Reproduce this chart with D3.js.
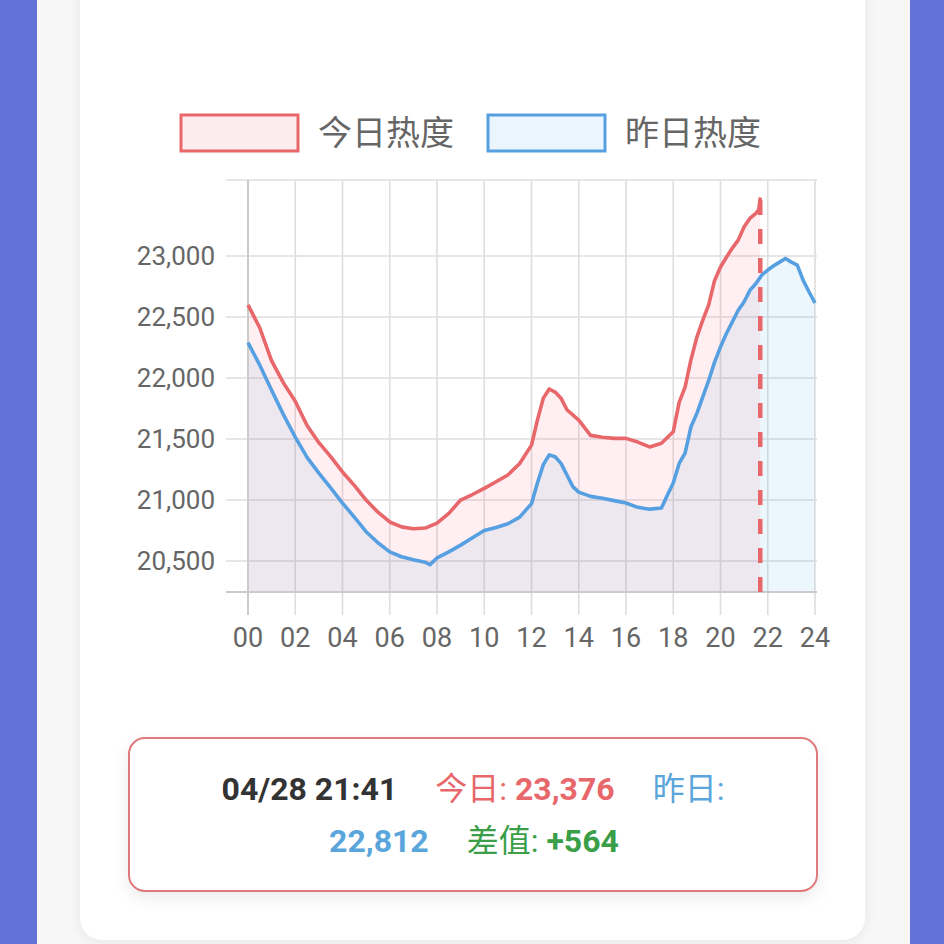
<!DOCTYPE html>
<html>
<head>
<meta charset="utf-8">
<script src="https://cdn.jsdelivr.net/npm/d3@7"></script>
<style>
  html, body { margin: 0; padding: 0; }
  body { width: 944px; height: 944px; position: relative; overflow: hidden; background: #f7f7f8;
         font-family: Roboto, "Noto Sans CJK SC", sans-serif; }
  .side { position: absolute; top: 0; height: 944px; background: #6272d6; }
  #card { position: absolute; left: 80px; top: -30px; width: 785px; height: 970px; background: #fff;
          border-radius: 22px; box-shadow: 0 2px 14px rgba(0,0,0,0.07); }
  #showBox { position: absolute; left: 0; top: 0; }
</style>
</head>
<body>
<div class="side" style="left:0;width:37px"></div>
<div class="side" style="left:910px;width:34px"></div>
<div id="card"></div>
<div id="showBox"></div>
<script>
const hourTicks = ["00", "02", "04", "06", "08", "10", "12", "14", "16", "18", "20", "22", "24"];
const valueTicks = [20500, 21000, 21500, 22000, 22500, 23000];

const todayHours = [0, 0.5, 1, 1.5, 2, 2.5, 3, 3.5, 4, 4.5, 5, 5.5, 6, 6.5, 7, 7.5, 8, 8.5, 9, 9.5,
    10, 10.5, 11, 11.5, 12, 12.25, 12.5, 12.75, 13, 13.25, 13.5, 14, 14.5, 15, 15.5, 16, 16.5, 17, 17.5,
    18, 18.25, 18.5, 18.75, 19, 19.25, 19.5, 19.75, 20, 20.25, 20.5, 20.75, 21, 21.25, 21.5, 21.62, 21.683];
const todayValues = [22600, 22410, 22140, 21960, 21810, 21610, 21470, 21355, 21230, 21120, 21000, 20900,
    20820, 20780, 20765, 20770, 20810, 20890, 21000, 21045, 21095, 21150, 21205, 21300, 21450, 21655,
    21835, 21910, 21885, 21835, 21740, 21655, 21530, 21515, 21505, 21505, 21475, 21435, 21465,
    21560, 21800, 21925, 22150, 22335, 22475, 22600, 22800, 22910, 22990, 23065, 23130, 23240, 23310,
    23350, 23380, 23480];

const yestHours = [0, 0.5, 1, 1.5, 2, 2.5, 3, 3.5, 4, 4.5, 5, 5.5, 6, 6.5, 7, 7.5, 7.7, 8, 8.5, 9, 9.5,
    10, 10.5, 11, 11.5, 12, 12.25, 12.5, 12.75, 13, 13.25, 13.5, 13.75, 14, 14.5, 15, 15.5, 16, 16.5, 17,
    17.5, 17.75, 18, 18.25, 18.5, 18.75, 19, 19.25, 19.5, 19.75, 20, 20.25, 20.5, 20.75, 21, 21.25, 21.5,
    21.75, 22, 22.25, 22.5, 22.75, 23, 23.25, 23.5, 23.75, 24];
const yestValues = [22290, 22105, 21900, 21700, 21515, 21350, 21220, 21100, 20975, 20860, 20740, 20650,
    20575, 20535, 20510, 20490, 20470, 20525, 20575, 20630, 20690, 20750, 20775, 20805, 20860, 20970,
    21140, 21290, 21370, 21355, 21300, 21205, 21110, 21065, 21030, 21015, 20995, 20975, 20940, 20925,
    20935, 21040, 21140, 21300, 21385, 21600, 21710, 21845, 21980, 22130, 22255, 22365, 22460, 22555,
    22625, 22720, 22775, 22845, 22885, 22920, 22950, 22980, 22950, 22925, 22800, 22705, 22615];

const legendNames = ["今日热度", "昨日热度"];
const nowLabel = "04/28 21:41";
const nowToday = 23376;
const nowYest = 22812;

const red = "#e8676a", blue = "#56a0e2";

class HeatChart {
    constructor() {
        this.width = 944
        this.height = 944
        this.left = 248
        this.right = 815
        this.top = 180
        this.bottom = 592
    }

    Chart() {
        const svg = d3.create("svg")
            .attr("width", this.width)
            .attr("height", this.height)
            .style("font-family", "Roboto, 'Noto Sans CJK SC', sans-serif");

        const x = d3.scaleLinear().domain([0, 24]).range([this.left, this.right]);
        const y = d3.scaleLinear().domain([20246, 23623]).range([this.bottom, this.top]);

        const today = todayHours.map((h, i) => ({h, v: todayValues[i]}));
        const yest = yestHours.map((h, i) => ({h, v: yestValues[i]}));

        // grid
        const grid = svg.append("g").attr("stroke", "#dedede").attr("stroke-width", 1.6);
        grid.selectAll("line.v")
            .data(d3.range(0, 25, 2))
            .join("line")
            .attr("x1", d => x(d)).attr("x2", d => x(d))
            .attr("y1", this.top).attr("y2", this.bottom + 23);
        grid.selectAll("line.h")
            .data([23623, ...valueTicks])
            .join("line")
            .attr("x1", this.left - 22).attr("x2", this.right + 2)
            .attr("y1", d => y(d)).attr("y2", d => y(d));

        // fills
        const area = d3.area().x(d => x(d.h)).y0(this.bottom).y1(d => y(d.v));
        svg.append("path").datum(yest).attr("d", area).attr("fill", "rgba(54,162,235,0.1)");
        svg.append("path").datum(today).attr("fill", "rgba(255,99,132,0.1)").attr("d", area);

        // axis lines
        svg.append("line")
            .attr("x1", this.left).attr("x2", this.left)
            .attr("y1", this.top).attr("y2", this.bottom + 23)
            .attr("stroke", "#cbcbcb").attr("stroke-width", 2);
        svg.append("line")
            .attr("x1", this.left - 22).attr("x2", this.right + 2)
            .attr("y1", this.bottom).attr("y2", this.bottom)
            .attr("stroke", "#cbcbcb").attr("stroke-width", 2);

        const line = d3.line().x(d => x(d.h)).y(d => y(d.v));
        svg.append("path").datum(yest).attr("d", line)
            .attr("fill", "none").attr("stroke", blue).attr("stroke-width", 3.6)
            .attr("stroke-linejoin", "round");
        svg.append("path").datum(today).attr("d", line)
            .attr("fill", "none").attr("stroke", red).attr("stroke-width", 3.6)
            .attr("stroke-linejoin", "round");

        const last = today[today.length - 1];
        svg.append("line")
            .attr("x1", x(last.h)).attr("x2", x(last.h))
            .attr("y1", this.bottom).attr("y2", y(last.v))
            .attr("stroke", red).attr("stroke-width", 4.5)
            .attr("stroke-dasharray", "15,14");

        // tick labels
        svg.append("g")
            .attr("font-size", 26).attr("fill", "#666").attr("text-anchor", "end")
            .selectAll("text")
            .data(valueTicks)
            .join("text")
            .attr("x", 215).attr("y", d => y(d)).attr("dy", "0.36em")
            .text(d => d3.format(",")(d));
        svg.append("g")
            .attr("font-size", 27).attr("fill", "#666").attr("text-anchor", "middle")
            .selectAll("text")
            .data(hourTicks)
            .join("text")
            .attr("x", d => x(+d)).attr("y", 647)
            .text(d => d);

        // legend
        const leg = svg.append("g")
            .selectAll("g")
            .data(legendNames)
            .join("g")
            .attr("transform", (d, i) => `translate(${181 + i * 307},115)`);
        leg.append("rect")
            .attr("width", 117).attr("height", 36)
            .attr("fill", (d, i) => i ? "#ebf5fd" : "#fdecee")
            .attr("stroke", (d, i) => i ? blue : red)
            .attr("stroke-width", 3);
        leg.append("text")
            .attr("x", 137).attr("y", 18).attr("dy", "0.36em")
            .attr("font-size", 34).attr("fill", "#666")
            .text(d => d);

        // info box
        const defs = svg.append("defs");
        const f = defs.append("filter").attr("id", "sh")
            .attr("x", "-10%").attr("y", "-20%").attr("width", "120%").attr("height", "150%");
        f.append("feDropShadow").attr("dx", 0).attr("dy", 6).attr("stdDeviation", 8)
            .attr("flood-color", "#000").attr("flood-opacity", 0.08);
        svg.append("rect")
            .attr("x", 129).attr("y", 738).attr("width", 688).attr("height", 153)
            .attr("rx", 16).attr("fill", "#fff")
            .attr("stroke", "#df7a7c").attr("stroke-width", 2)
            .attr("filter", "url(#sh)");

        const fmt = d3.format(",");
        const t1 = svg.append("text").attr("x", 473).attr("y", 800)
            .attr("text-anchor", "middle").attr("font-size", 32);
        t1.append("tspan").attr("font-weight", "bold").attr("fill", "#333").text(nowLabel);
        t1.append("tspan").attr("dx", 38).attr("fill", red).text("今日: ");
        t1.append("tspan").attr("font-weight", "bold").attr("fill", red).text(fmt(nowToday));
        t1.append("tspan").attr("dx", 38).attr("fill", "#5aa6dc").text("昨日:");

        const t2 = svg.append("text").attr("x", 474).attr("y", 852)
            .attr("text-anchor", "middle").attr("font-size", 32);
        t2.append("tspan").attr("font-weight", "bold").attr("fill", "#5aa6dc").text(fmt(nowYest));
        t2.append("tspan").attr("dx", 38).attr("fill", "#3a9f48").text("差值: ");
        t2.append("tspan").attr("font-weight", "bold").attr("fill", "#3a9f48")
            .text("+" + fmt(nowToday - nowYest));

        return svg.node();
    }

    ReDraw() {
        d3.select("#showBox").selectAll("svg").remove();
        const node = this.Chart()
        d3.select("#showBox").append(() => node);
    }
}

new HeatChart().ReDraw()
</script>
</body>
</html>
